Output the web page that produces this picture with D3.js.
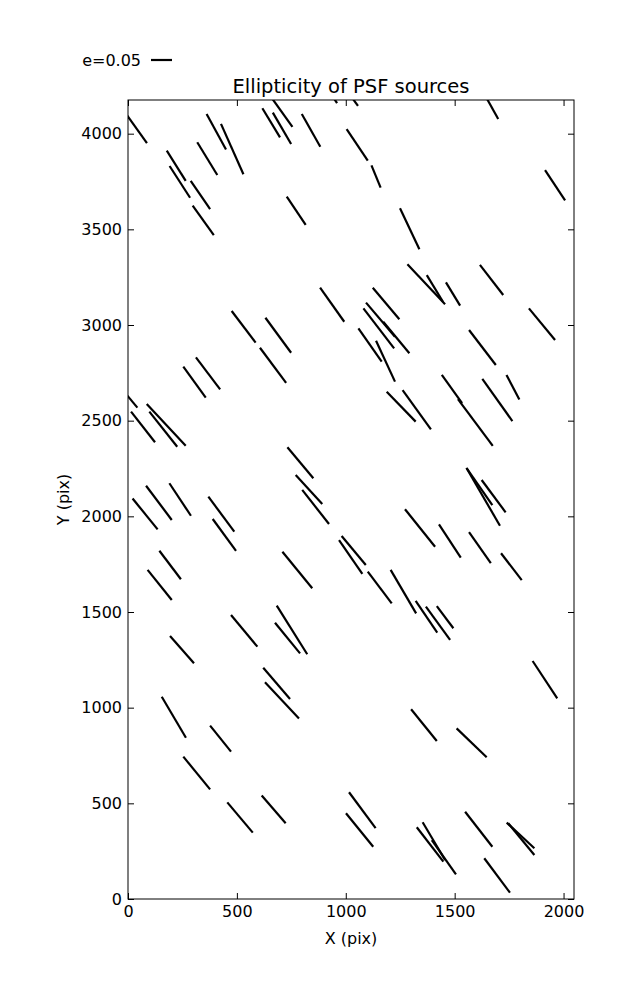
<!DOCTYPE html>
<html><head><meta charset="utf-8">
<script src="https://cdn.jsdelivr.net/npm/d3@7"></script>
<style>body{margin:0;background:#fff}svg{display:block;font-family:"DejaVu Sans",sans-serif}</style>
</head><body><svg id="c" width="637" height="1000"></svg>
<script>
// whisker endpoints in image pixels (data units)
const x1 = [-18,178,191,288,318,361,427,617,665,634,798,882,964,1004,1118,1626,1915,729,297,1249,1283,1372,1460,1616,882,1124,476,631,606,254,312,1093,1172,1081,1058,1139,1566,1841,1441,1515,1627,1738,1188,1261,-51,14,86,98,732,770,800,1555,1554,1624,83,190,21,369,389,1272,1428,1566,1713,144,90,709,981,969,1101,1206,473,683,675,193,1321,1368,1418,1858,621,629,155,377,254,1300,1509,614,1015,456,1001,1548,1739,1746,1636,1326,1353,1395];
const y1 = [4118,3911,3831,3753,3955,4103,4051,4133,4110,4228,4103,4291,4291,4024,3834,4228,3810,3671,3624,3610,3317,3261,3223,3314,3195,3195,3073,3038,2881,2782,2831,3117,3017,3087,2983,2918,2974,3087,2739,2613,2718,2739,2651,2660,2697,2547,2587,2547,2361,2216,2138,2251,2253,2190,2160,2173,2093,2103,1986,2037,1958,1917,1807,1820,1720,1815,1897,1876,1711,1720,1484,1533,1444,1375,1558,1528,1531,1244,1209,1133,1057,906,744,992,892,541,558,505,448,456,399,396,213,375,401,308];
const x2 = [87,265,285,377,410,450,530,698,749,755,883,960,1056,1101,1160,1700,2007,816,394,1338,1456,1447,1525,1723,993,1246,586,749,726,357,423,1226,1292,1222,1165,1226,1689,1961,1534,1675,1765,1797,1321,1391,43,124,265,226,851,892,923,1708,1673,1734,201,289,136,488,496,1410,1528,1666,1808,243,201,846,1092,1076,1211,1323,594,823,790,303,1420,1479,1494,1971,744,785,266,473,377,1418,1647,724,1137,573,1126,1673,1866,1866,1754,1448,1456,1506];
const y2 = [3951,3753,3665,3606,3784,3917,3788,3981,3946,4036,3932,4160,4145,3859,3718,4077,3651,3523,3470,3396,3108,3120,3101,3157,3017,3030,2908,2855,2698,2620,2664,2939,2852,2878,2808,2704,2791,2922,2592,2368,2498,2611,2495,2455,2568,2387,2369,2364,2199,2065,1960,1951,2059,2021,1981,2003,1932,1920,1819,1841,1784,1755,1667,1671,1563,1624,1746,1699,1545,1493,1319,1279,1284,1232,1392,1354,1415,1049,1045,944,843,770,573,826,741,396,370,347,273,273,265,230,33,195,204,129];
const xTicks = [0,500,1000,1500,2000];
const yTicks = [0,500,1000,1500,2000,2500,3000,3500,4000];
const legendE = 0.05;
const xDomain = [0,2048], yDomain = [0,4176];

const svg = d3.select("#c");
const L=128,R=574,T=100,B=899;
const x = d3.scaleLinear().domain(xDomain).range([L,R]);
const y = d3.scaleLinear().domain(yDomain).range([B,T]);
const pxPerE = 420;

svg.append("defs").append("clipPath").attr("id","clip")
  .append("rect").attr("x",L).attr("y",T).attr("width",R-L).attr("height",B-T);

const segs = x1.map((v,i)=>({x1:v,y1:y1[i],x2:x2[i],y2:y2[i]}));
svg.append("g").attr("clip-path","url(#clip)").selectAll("line").data(segs).join("line")
  .attr("x1",d=>x(d.x1)).attr("y1",d=>y(d.y1)).attr("x2",d=>x(d.x2)).attr("y2",d=>y(d.y2))
  .attr("stroke","#000").attr("stroke-width",2.2).attr("stroke-linecap","butt");

// axes (ticks inside, on all sides)
const tl=6;
const ax = svg.append("g").attr("transform",`translate(0,${B})`)
  .call(d3.axisBottom(x).tickValues(xTicks).tickSize(-tl).tickPadding(7).tickFormat(d3.format("d")));
const axT = svg.append("g").attr("transform",`translate(0,${T})`)
  .call(d3.axisTop(x).tickValues(xTicks).tickSize(-tl).tickFormat(""));
const ay = svg.append("g").attr("transform",`translate(${L},0)`)
  .call(d3.axisLeft(y).tickValues(yTicks).tickSize(-tl).tickPadding(6).tickFormat(d3.format("d")));
const ayR = svg.append("g").attr("transform",`translate(${R},0)`)
  .call(d3.axisRight(y).tickValues(yTicks).tickSize(-tl).tickFormat(""));
[ax,axT,ay,ayR].forEach(g=>{
  g.select(".domain").remove();
  g.selectAll("line").attr("stroke","#000");
  g.selectAll("text").attr("font-family","DejaVu Sans").attr("font-size",16).attr("fill","#000");
});
ax.selectAll("text").attr("dy","0.71em").attr("y",tl+1+6 - 6);
svg.append("rect").attr("x",L).attr("y",T).attr("width",R-L).attr("height",B-T)
  .attr("fill","none").attr("stroke","#000").attr("stroke-width",1);

svg.append("text").attr("x",(L+R)/2).attr("y",93).attr("text-anchor","middle")
  .attr("font-size",19.5).text("Ellipticity of PSF sources");
svg.append("text").attr("x",(L+R)/2).attr("y",944).attr("text-anchor","middle")
  .attr("font-size",16).text("X (pix)");
svg.append("text").attr("transform",`translate(69,${(T+B)/2}) rotate(-90)`).attr("text-anchor","middle")
  .attr("font-size",16).text("Y (pix)");

// legend
svg.append("text").attr("x",141).attr("y",66).attr("text-anchor","end")
  .attr("font-size",16).text("e=" + legendE.toFixed(2));
svg.append("line").attr("x1",151).attr("x2",151+legendE*pxPerE).attr("y1",60).attr("y2",60)
  .attr("stroke","#000").attr("stroke-width",2.2);
</script></body></html>
